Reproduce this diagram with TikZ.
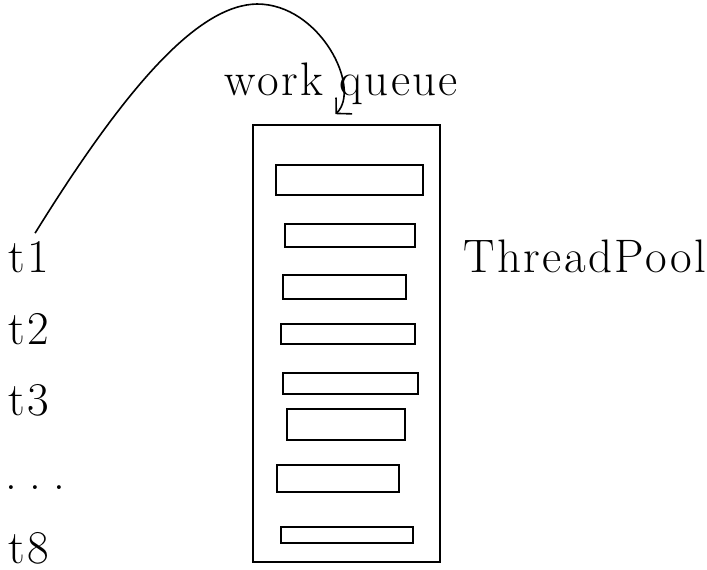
\documentclass[tikz,border=0pt]{standalone}
\usepackage{fontspec}
\usetikzlibrary{arrows.meta}

\newfontfamily\qfont{Latin Modern Roman}[LetterSpace=5]
\newcommand{\qtext}[1]{\fontsize{47}{56}\qfont #1}

\begin{document}
\begin{tikzpicture}[x=1pt, y=-1pt, line width=1.6pt,
    lbl/.style={inner sep=0pt, anchor=base west}]

    \useasboundingbox (0,0) rectangle (707,570);

    % the pool
    \node[draw, minimum width=187pt, minimum height=437pt, inner sep=0pt] (queue) at (346.5,343.5) {};
    \foreach \xa/\ya/\xb/\yb in {276/165/423/195, 285/224/415/247, 283/275/406/299, 281/324/415/344,
                                 283/373/418/394, 287/409/405/440, 277/465/399/492, 281/527/413/543}
        \draw (\xa,\ya) rectangle (\xb,\yb);

    \node[lbl] (wq) at (224,95) {\qtext{work queue}};
    \node[lbl] (tp) at (463,272) {\qtext{ThreadPool}};

    % threads
    \node[lbl] (t1) at (8,272) {\qtext{t1}};
    \node[lbl] (t2) at (8,344) {\qtext{t2}};
    \node[lbl] (t3) at (8,415) {\qtext{t3}};
    \node[lbl] (tdots) at (5,489) {\qtext{.\hspace{12pt}.\hspace{12pt}.}};
    \node[lbl] (t8) at (8,563) {\qtext{t8}};

    \coordinate (top) at (257,4);
    \draw[-{Straight Barb[length=11pt, width=23pt]}]
        ([xshift=6pt, yshift=7pt]t1.north) .. controls (130,80) and (200,5) .. (top)
        .. controls (320,4) and (362,88) .. ([xshift=-11pt, yshift=10pt]queue.north);
\end{tikzpicture}
\end{document}
